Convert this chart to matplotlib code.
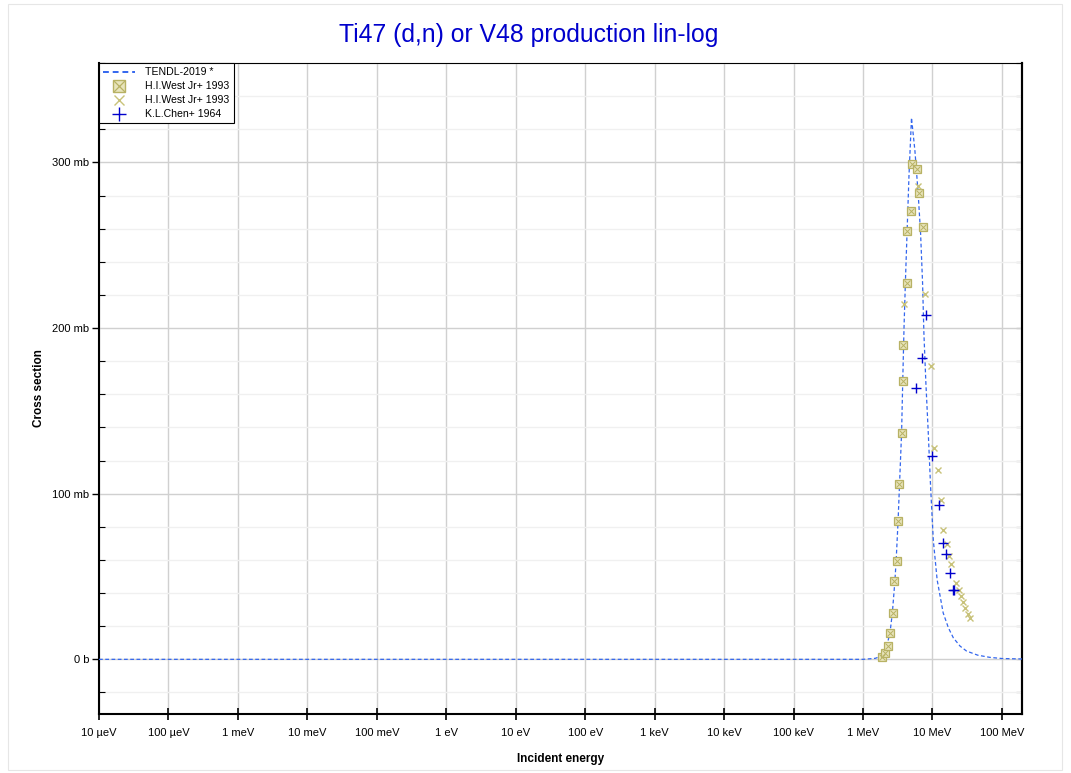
import matplotlib
matplotlib.use("Agg")
import matplotlib.pyplot as plt
from matplotlib.ticker import FixedLocator, MultipleLocator, NullFormatter
from matplotlib.legend_handler import HandlerTuple
from matplotlib.lines import Line2D
from matplotlib.patches import Rectangle

plt.rcParams['font.family'] = ['Liberation Sans', 'DejaVu Sans']

# TENDL-2019 evaluated curve (energy in eV, cross section in mb)
tendl_e = [1e-5, 1e6, 1.5e6, 1.85e6, 2.0e6, 2.2e6, 2.45e6, 2.65e6, 2.88e6, 3.0e6,
           3.2e6, 3.35e6, 3.6e6, 3.75e6, 3.9e6, 4.1e6, 4.35e6, 4.6e6, 5.0e6,
           5.6e6, 6.24e6, 6.76e6, 7.22e6, 7.54e6, 8.05e6, 8.69e6, 9.42e6,
           1.03e7, 1.17e7, 1.43e7, 1.7e7, 2.0e7, 2.5e7, 3.1e7, 4.5e7, 6.7e7, 1e8, 2e8]
tendl_xs = [0, 0, 0.6, 2, 4, 8, 16, 28, 47, 59,
            83, 104, 137, 170, 200, 230, 262, 292, 327,
            307, 281, 257, 227, 197, 167, 138, 104,
            72, 48, 28, 19, 13, 8, 5, 2.5, 1.2, 0.5, 0.2]

# H.I.West Jr+ 1993 (boxed)
west1_e = [1.89e6, 2.07e6, 2.26e6, 2.44e6, 2.67e6, 2.82e6, 3.05e6, 3.22e6, 3.33e6,
           3.60e6, 3.72e6, 3.79e6, 4.25e6, 4.34e6, 4.85e6, 5.06e6, 5.92e6, 6.46e6, 7.22e6]
west1_xs = [1.4, 3.8, 7.8, 16.1, 28.2, 47.3, 59.3, 83.5, 105.6,
            136.6, 168, 190, 227.3, 258.3, 270.8, 299, 296, 281.6, 260.7]

# H.I.West Jr+ 1993 (crosses)
west2_e = [3.88e6, 6.24e6, 7.95e6, 9.42e6, 1.07e7, 1.20e7, 1.31e7, 1.43e7, 1.60e7,
           1.71e7, 1.83e7, 2.18e7, 2.38e7, 2.55e7, 2.72e7, 2.91e7, 3.24e7, 3.47e7]
west2_xs = [214.6, 286, 220.7, 177, 127.8, 114.5, 96.4, 78.3, 69.8,
            62.2, 57.3, 46.0, 42.0, 38.0, 34.4, 31.0, 27.2, 25.2]

# K.L.Chen+ 1964
chen_e = [5.78e6, 7.06e6, 8.05e6, 9.8e6, 1.23e7, 1.40e7, 1.56e7, 1.79e7, 1.99e7, 2.05e7]
chen_xs = [164, 182, 208, 122.5, 93, 70.2, 63.4, 52.1, 42.1, 42.1]

legend_labels = ['TENDL-2019 *', 'H.I.West Jr+ 1993', 'H.I.West Jr+ 1993', 'K.L.Chen+ 1964']

x_ticks = [1e-5, 1e-4, 1e-3, 1e-2, 1e-1, 1, 10, 100, 1e3, 1e4, 1e5, 1e6, 1e7, 1e8]
x_labels = ['10 µeV', '100 µeV', '1 meV', '10 meV', '100 meV', '1 eV', '10 eV',
            '100 eV', '1 keV', '10 keV', '100 keV', '1 MeV', '10 MeV', '100 MeV']
y_ticks = [0, 100, 200, 300]
y_labels = ['0 b', '100 mb', '200 mb', '300 mb']

fig = plt.figure(figsize=(10.71, 7.73), dpi=100)
fig.patches.append(Rectangle((8 / 1071, 1 - 770 / 773), 1054 / 1071, 766 / 773,
                             transform=fig.transFigure, fill=False,
                             edgecolor='#e6e6e6', linewidth=0.8))
ax = fig.add_axes([99 / 1071, 1 - 714 / 773, 923 / 1071, 651 / 773])

ax.set_xscale('log')
ax.set_xlim(1e-5, 1.95e8)
ax.set_ylim(-33, 360)

khaki_edge = '#b8b264'
khaki_face = '#e8e4bc'
tendl_color = '#3366ee'
chen_color = '#0000cc'
cross_color = '#c8c27a'

ax.plot(tendl_e, tendl_xs, linestyle=(0, (3, 2)), color=tendl_color,
        linewidth=0.9, zorder=3)
ax.plot(west1_e, west1_xs, linestyle='none', marker='s', markersize=5.5,
        markerfacecolor=khaki_face, markeredgecolor=khaki_edge,
        markeredgewidth=0.9, zorder=4)
ax.plot(west1_e, west1_xs, linestyle='none', marker='x', markersize=5.0,
        color=khaki_edge, markeredgewidth=0.7, zorder=4)
ax.plot(west2_e, west2_xs, linestyle='none', marker='x', markersize=4.2,
        color=cross_color, markeredgewidth=1.0, zorder=4)
ax.plot(chen_e, chen_xs, linestyle='none', marker='+', markersize=6.5,
        color=chen_color, markeredgewidth=1.0, zorder=5)

# ticks and grids
ax.xaxis.set_major_locator(FixedLocator(x_ticks))
ax.set_xticklabels(x_labels, fontsize=8)
ax.xaxis.set_minor_locator(FixedLocator([]))
ax.yaxis.set_major_locator(FixedLocator(y_ticks))
ax.set_yticklabels(y_labels, fontsize=8)
ax.yaxis.set_minor_locator(MultipleLocator(20))
ax.grid(True, which='major', color='#d0d0d0', linewidth=1.0)
ax.grid(True, which='minor', axis='y', color='#f0f0f0', linewidth=1.0)
ax.set_axisbelow(True)

ax.tick_params(axis='x', which='major', direction='inout', length=8, width=1.2, pad=6)
ax.tick_params(axis='y', which='major', direction='out', length=5, width=1.0, pad=2)
ax.tick_params(axis='y', which='minor', direction='in', length=4, width=0.8)

sec = ax.secondary_yaxis('right')
sec.yaxis.set_major_locator(FixedLocator(y_ticks))
sec.yaxis.set_minor_locator(MultipleLocator(20))
sec.tick_params(which='both', direction='in', length=4, width=0.8, labelright=False)
sec.yaxis.set_major_formatter(NullFormatter())
sec.spines['right'].set_linewidth(1.5)

for s in ax.spines.values():
    s.set_linewidth(1.5)
ax.spines['top'].set_linewidth(0.8)

ax.set_xlabel('Incident energy', fontsize=8.5, fontweight='bold', labelpad=11)
ax.set_ylabel('Cross section', fontsize=8.5, fontweight='bold', labelpad=5)

fig.text(528.5 / 1071, 1 - 35 / 773, 'Ti47 (d,n) or V48 production lin-log', ha='center',
         va='center', fontsize=17.8, color='#0000cc')

# legend proxies (legend symbols are drawn larger than the data marks)
h_tendl = Line2D([], [], linestyle=(0, (3, 2)), color=tendl_color, linewidth=1.4)
h_box = Line2D([], [], linestyle='none', marker='s', markersize=9,
               markerfacecolor=khaki_face, markeredgecolor=khaki_edge, markeredgewidth=1.0)
h_boxx = Line2D([], [], linestyle='none', marker='x', markersize=8.5,
                color=khaki_edge, markeredgewidth=0.9)
h_x = Line2D([], [], linestyle='none', marker='x', markersize=7,
             color=cross_color, markeredgewidth=1.0)
h_chen = Line2D([], [], linestyle='none', marker='+', markersize=10,
                color=chen_color, markeredgewidth=1.0)

leg = ax.legend([h_tendl, (h_box, h_boxx), h_x, h_chen], legend_labels,
                handler_map={tuple: HandlerTuple(ndivide=1)},
                loc='upper left', bbox_to_anchor=(0, 1), fontsize=7.6,
                frameon=True, fancybox=False, edgecolor='black', framealpha=1,
                borderpad=0.4, labelspacing=0.38, handlelength=3.0,
                handletextpad=1.0, borderaxespad=0.0)
leg.get_frame().set_linewidth(0.8)

fig.savefig('out.png', dpi=100)
